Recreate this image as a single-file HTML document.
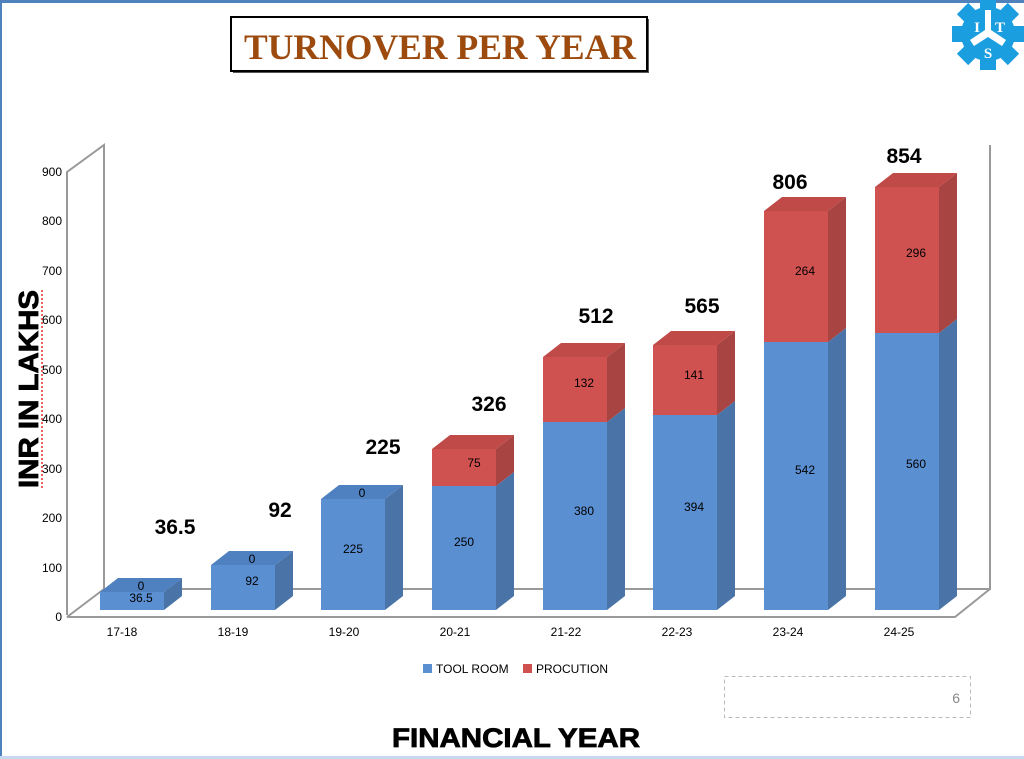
<!DOCTYPE html>
<html><head><style>
html,body{margin:0;padding:0;background:#fff;}
svg{display:block;}
text{font-family:"Liberation Sans",sans-serif;}
</style></head><body>
<svg width="1024" height="759" viewBox="0 0 1024 759" xmlns="http://www.w3.org/2000/svg">
<rect x="0" y="0" width="1024" height="759" fill="#fff"/>
<rect x="0" y="0" width="1024" height="3" fill="#4f81bd"/>
<rect x="0" y="0" width="2" height="759" fill="#4f81bd"/>
<rect x="0" y="756" width="1024" height="3" fill="#c6d9f1"/>
<!-- title -->
<rect x="233" y="19" width="416" height="54" fill="#555"/>
<rect x="231" y="17" width="416" height="54" fill="#fff" stroke="#000" stroke-width="2"/>
<text x="440" y="59" text-anchor="middle" font-weight="bold" font-size="36" fill="#9c4a0e" textLength="392" lengthAdjust="spacingAndGlyphs" style="font-family:'Liberation Serif',serif">TURNOVER  PER YEAR</text>
<!-- logo gear -->
<g transform="translate(988,34)" fill="#1b9ee0">
<circle r="27"/>
<rect x="-8" y="-36" width="16" height="12"/>
<rect x="-8" y="24" width="16" height="12"/>
<rect x="-36" y="-8" width="12" height="16"/>
<rect x="24" y="-8" width="12" height="16"/>
<rect x="-8" y="-36" width="16" height="12" transform="rotate(45)"/>
<rect x="-8" y="-36" width="16" height="12" transform="rotate(-45)"/>
<rect x="-8" y="-36" width="16" height="12" transform="rotate(135)"/>
<rect x="-8" y="-36" width="16" height="12" transform="rotate(-135)"/>
<path d="M-3,-24 L3,-24 L3,-4 L18,6 L14,12 L0,3 L-14,12 L-18,6 L-3,-4 Z" fill="#fff"/>
<text x="-11" y="-2" font-weight="bold" font-size="15" fill="#fff" text-anchor="middle" style="font-family:'Liberation Serif',serif">I</text>
<text x="12" y="-2" font-weight="bold" font-size="15" fill="#fff" text-anchor="middle" style="font-family:'Liberation Serif',serif">T</text>
<text x="0" y="24" font-weight="bold" font-size="15" fill="#fff" text-anchor="middle" style="font-family:'Liberation Serif',serif">S</text>
</g>
<!-- axes -->
<g stroke="#999" stroke-width="2" fill="none">
<polyline points="67,615 67,172 104,145 104,589 990,589 990,145"/>
<polyline points="67,617 955,617 990,589"/>
<line x1="67" y1="617" x2="104" y2="589"/>
</g>
<g font-size="12" fill="#000" text-anchor="end">
<text x="62" y="621">0</text>
<text x="62" y="572">100</text>
<text x="62" y="522">200</text>
<text x="62" y="473">300</text>
<text x="62" y="423">400</text>
<text x="62" y="374">500</text>
<text x="62" y="324">600</text>
<text x="62" y="275">700</text>
<text x="62" y="225">800</text>
<text x="62" y="176">900</text>
</g>
<!-- bars -->
<g font-size="12" text-anchor="middle" fill="#000">
<rect x="100" y="592" width="64" height="18" fill="#5a8fd2"/>
<polygon points="164,592 182,578 182,596 164,610" fill="#4a73a8"/>
<polygon points="100,592 118,578 182,578 164,592" fill="#4f80c0"/>
<text x="141" y="590">0</text><text x="141" y="602">36.5</text>
<rect x="211" y="565" width="64" height="45" fill="#5a8fd2"/>
<polygon points="275,565 293,551 293,596 275,610" fill="#4a73a8"/>
<polygon points="211,565 229,551 293,551 275,565" fill="#4f80c0"/>
<text x="252" y="563">0</text><text x="252" y="585">92</text>
<rect x="321" y="499" width="64" height="111" fill="#5a8fd2"/>
<polygon points="385,499 403,485 403,596 385,610" fill="#4a73a8"/>
<polygon points="321,499 339,485 403,485 385,499" fill="#4f80c0"/>
<text x="362" y="497">0</text><text x="353" y="553">225</text>
<rect x="432" y="486" width="64" height="124" fill="#5a8fd2"/>
<polygon points="496,486 514,472 514,596 496,610" fill="#4a73a8"/>
<rect x="432" y="449" width="64" height="37" fill="#d05250"/>
<polygon points="496,449 514,435 514,472 496,486" fill="#a84543"/>
<polygon points="432,449 450,435 514,435 496,449" fill="#bf4a48"/>
<text x="464" y="546">250</text><text x="474" y="467">75</text>
<rect x="543" y="422" width="64" height="188" fill="#5a8fd2"/>
<polygon points="607,422 625,408 625,596 607,610" fill="#4a73a8"/>
<rect x="543" y="357" width="64" height="65" fill="#d05250"/>
<polygon points="607,357 625,343 625,408 607,422" fill="#a84543"/>
<polygon points="543,357 561,343 625,343 607,357" fill="#bf4a48"/>
<text x="584" y="515">380</text><text x="584" y="387">132</text>
<rect x="653" y="415" width="64" height="195" fill="#5a8fd2"/>
<polygon points="717,415 735,401 735,596 717,610" fill="#4a73a8"/>
<rect x="653" y="345" width="64" height="70" fill="#d05250"/>
<polygon points="717,345 735,331 735,401 717,415" fill="#a84543"/>
<polygon points="653,345 671,331 735,331 717,345" fill="#bf4a48"/>
<text x="694" y="511">394</text><text x="694" y="379">141</text>
<rect x="764" y="342" width="64" height="268" fill="#5a8fd2"/>
<polygon points="828,342 846,328 846,596 828,610" fill="#4a73a8"/>
<rect x="764" y="211" width="64" height="131" fill="#d05250"/>
<polygon points="828,211 846,197 846,328 828,342" fill="#a84543"/>
<polygon points="764,211 782,197 846,197 828,211" fill="#bf4a48"/>
<text x="805" y="474">542</text><text x="805" y="275">264</text>
<rect x="875" y="333" width="64" height="277" fill="#5a8fd2"/>
<polygon points="939,333 957,319 957,596 939,610" fill="#4a73a8"/>
<rect x="875" y="187" width="64" height="146" fill="#d05250"/>
<polygon points="939,187 957,173 957,319 939,333" fill="#a84543"/>
<polygon points="875,187 893,173 957,173 939,187" fill="#bf4a48"/>
<text x="916" y="468">560</text><text x="916" y="257">296</text>
</g>
<!-- totals -->
<g font-size="21" font-weight="bold" text-anchor="middle" fill="#000">
<text x="175" y="534">36.5</text>
<text x="280" y="517">92</text>
<text x="383" y="454">225</text>
<text x="489" y="411">326</text>
<text x="596" y="323">512</text>
<text x="702" y="313">565</text>
<text x="790" y="189">806</text>
<text x="904" y="163">854</text>
</g>
<!-- x labels -->
<g font-size="12" text-anchor="middle" fill="#000">
<text x="122" y="636">17-18</text>
<text x="233" y="636">18-19</text>
<text x="344" y="636">19-20</text>
<text x="455" y="636">20-21</text>
<text x="566" y="636">21-22</text>
<text x="677" y="636">22-23</text>
<text x="788" y="636">23-24</text>
<text x="899" y="636">24-25</text>
</g>
<!-- legend -->
<rect x="423" y="664" width="9" height="9" fill="#5a8fd2"/>
<text x="436" y="673" font-size="12" fill="#000">TOOL ROOM</text>
<rect x="523" y="664" width="9" height="9" fill="#d05250"/>
<text x="536" y="673" font-size="12" fill="#000">PROCUTION</text>
<!-- page num box -->
<rect x="724.5" y="676.5" width="246" height="41" fill="none" stroke="#bbb" stroke-dasharray="4,3"/>
<text x="960" y="703" font-size="14" fill="#888" text-anchor="end">6</text>
<!-- axis titles -->
<text transform="translate(38,389) rotate(-90)" text-anchor="middle" font-size="28" font-weight="bold" fill="#000" stroke="#000" stroke-width="0.8" textLength="198" lengthAdjust="spacingAndGlyphs">INR IN LAKHS</text>
<line x1="42" y1="290" x2="42" y2="488" stroke="#e03030" stroke-width="1.5" stroke-dasharray="2,2"/>
<text x="516" y="747" text-anchor="middle" font-size="27" font-weight="bold" fill="#000" stroke="#000" stroke-width="0.8" textLength="248" lengthAdjust="spacingAndGlyphs">FINANCIAL YEAR</text>
</svg>
</body></html>
